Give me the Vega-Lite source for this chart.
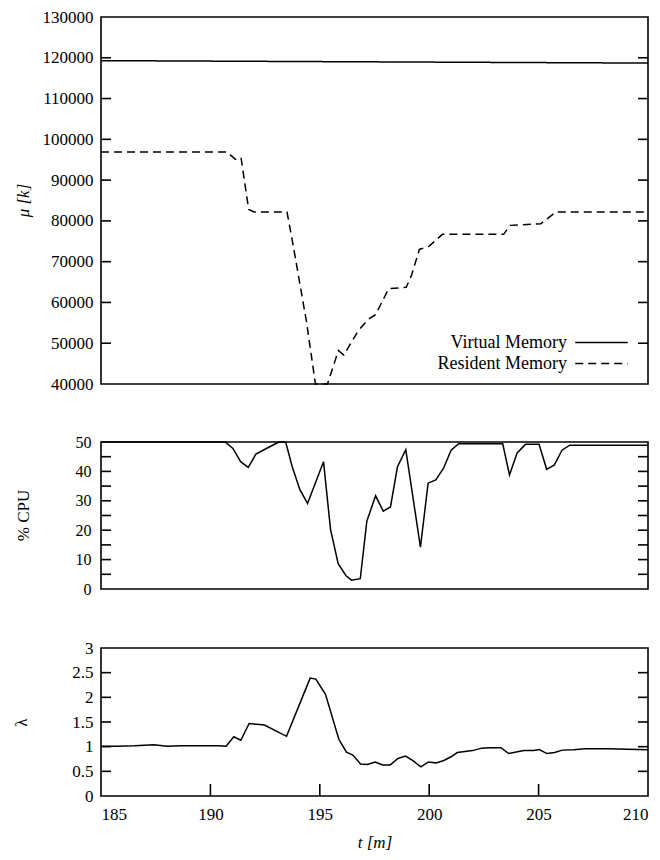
{
  "$schema": "https://vega.github.io/schema/vega-lite/v6.json",
  "autosize": {"type": "pad"},
  "padding": {"left": 11, "top": 7, "right": 5, "bottom": 2},
  "background": "white",
  "config": {
    "font": "Liberation Serif",
    "view": {"stroke": "black", "strokeWidth": 1.6},
    "axis": {"grid": false, "domain": false, "ticks": false, "tickSize": 0, "labelColor": "black", "titleColor": "black", "labelFont": "Liberation Serif", "titleFont": "Liberation Serif", "labelFontSize": 17, "titleFontSize": 17, "titleFontWeight": "normal"},
    "legend": {"labelFont": "Liberation Serif", "labelFontSize": 18, "labelColor": "black"},
    "tick": {"color": "black", "thickness": 1.6, "opacity": 1}
  },
  "datasets": {
    "mem": [
      {"t": 185, "v": 119300, "series": "Virtual Memory"},
      {"t": 197.5, "v": 119000, "series": "Virtual Memory"},
      {"t": 210, "v": 118700, "series": "Virtual Memory"},
      {"t": 185, "v": 96900, "series": "Resident Memory"},
      {"t": 190.75, "v": 96900, "series": "Resident Memory"},
      {"t": 191.15, "v": 95100, "series": "Resident Memory"},
      {"t": 191.4, "v": 95500, "series": "Resident Memory"},
      {"t": 191.75, "v": 82800, "series": "Resident Memory"},
      {"t": 192.0, "v": 82200, "series": "Resident Memory"},
      {"t": 193.5, "v": 82200, "series": "Resident Memory"},
      {"t": 193.75, "v": 75000, "series": "Resident Memory"},
      {"t": 194.4, "v": 55000, "series": "Resident Memory"},
      {"t": 194.8, "v": 40000, "series": "Resident Memory"},
      {"t": 195.35, "v": 40000, "series": "Resident Memory"},
      {"t": 195.85, "v": 48200, "series": "Resident Memory"},
      {"t": 196.1, "v": 47100, "series": "Resident Memory"},
      {"t": 196.75, "v": 53000, "series": "Resident Memory"},
      {"t": 197.2, "v": 55800, "series": "Resident Memory"},
      {"t": 197.55, "v": 57000, "series": "Resident Memory"},
      {"t": 198.15, "v": 63400, "series": "Resident Memory"},
      {"t": 198.95, "v": 63700, "series": "Resident Memory"},
      {"t": 199.2, "v": 66800, "series": "Resident Memory"},
      {"t": 199.55, "v": 73000, "series": "Resident Memory"},
      {"t": 200.0, "v": 73800, "series": "Resident Memory"},
      {"t": 200.6, "v": 76700, "series": "Resident Memory"},
      {"t": 203.4, "v": 76700, "series": "Resident Memory"},
      {"t": 203.7, "v": 78900, "series": "Resident Memory"},
      {"t": 205.1, "v": 79300, "series": "Resident Memory"},
      {"t": 205.8, "v": 82200, "series": "Resident Memory"},
      {"t": 210, "v": 82200, "series": "Resident Memory"}
    ],
    "cpu": [
      {"t": 185, "cpu": 50}, {"t": 190.68, "cpu": 50}, {"t": 191.03, "cpu": 47.8},
      {"t": 191.38, "cpu": 43.3}, {"t": 191.73, "cpu": 41.4}, {"t": 192.08, "cpu": 45.9},
      {"t": 192.69, "cpu": 48.3}, {"t": 193.13, "cpu": 50}, {"t": 193.44, "cpu": 50},
      {"t": 193.74, "cpu": 41.6}, {"t": 194.09, "cpu": 33.8}, {"t": 194.44, "cpu": 29.1},
      {"t": 195.17, "cpu": 43.3}, {"t": 195.49, "cpu": 20.3}, {"t": 195.84, "cpu": 8.6},
      {"t": 196.19, "cpu": 4.6}, {"t": 196.45, "cpu": 3.0}, {"t": 196.85, "cpu": 3.5},
      {"t": 197.15, "cpu": 23.1}, {"t": 197.55, "cpu": 31.7}, {"t": 197.9, "cpu": 26.5},
      {"t": 198.23, "cpu": 27.9}, {"t": 198.55, "cpu": 41.6}, {"t": 198.93, "cpu": 47.4},
      {"t": 199.6, "cpu": 14.2}, {"t": 199.95, "cpu": 36.0}, {"t": 200.3, "cpu": 37.1},
      {"t": 200.65, "cpu": 41.0}, {"t": 201.0, "cpu": 47.2}, {"t": 201.35, "cpu": 49.4},
      {"t": 203.36, "cpu": 49.4}, {"t": 203.67, "cpu": 38.8}, {"t": 204.02, "cpu": 46.3},
      {"t": 204.4, "cpu": 49.2}, {"t": 205.02, "cpu": 49.2}, {"t": 205.37, "cpu": 40.7},
      {"t": 205.72, "cpu": 42.2}, {"t": 206.07, "cpu": 47.2}, {"t": 206.42, "cpu": 48.9},
      {"t": 210, "cpu": 48.9}
    ],
    "lam": [
      {"t": 185, "l": 1.01}, {"t": 185.66, "l": 1.01}, {"t": 186.54, "l": 1.02},
      {"t": 187.41, "l": 1.04}, {"t": 188.02, "l": 1.01}, {"t": 188.63, "l": 1.02},
      {"t": 190.37, "l": 1.02}, {"t": 190.72, "l": 1.01}, {"t": 191.07, "l": 1.2},
      {"t": 191.39, "l": 1.13}, {"t": 191.77, "l": 1.47}, {"t": 192.47, "l": 1.44},
      {"t": 193.48, "l": 1.21}, {"t": 194.22, "l": 2.02}, {"t": 194.56, "l": 2.39},
      {"t": 194.82, "l": 2.37}, {"t": 195.26, "l": 2.06}, {"t": 195.87, "l": 1.15},
      {"t": 196.22, "l": 0.89}, {"t": 196.51, "l": 0.83}, {"t": 196.86, "l": 0.65},
      {"t": 197.18, "l": 0.64}, {"t": 197.53, "l": 0.69}, {"t": 197.87, "l": 0.63},
      {"t": 198.22, "l": 0.63}, {"t": 198.57, "l": 0.76}, {"t": 198.92, "l": 0.81},
      {"t": 199.27, "l": 0.71}, {"t": 199.62, "l": 0.59}, {"t": 199.97, "l": 0.69},
      {"t": 200.32, "l": 0.67}, {"t": 200.67, "l": 0.72}, {"t": 201.02, "l": 0.8},
      {"t": 201.28, "l": 0.88}, {"t": 201.63, "l": 0.9}, {"t": 201.98, "l": 0.92},
      {"t": 202.41, "l": 0.97}, {"t": 202.76, "l": 0.98}, {"t": 203.28, "l": 0.98},
      {"t": 203.63, "l": 0.86}, {"t": 203.98, "l": 0.89}, {"t": 204.33, "l": 0.92},
      {"t": 204.77, "l": 0.92}, {"t": 205.03, "l": 0.94}, {"t": 205.38, "l": 0.86},
      {"t": 205.73, "l": 0.88}, {"t": 206.08, "l": 0.93}, {"t": 206.6, "l": 0.94},
      {"t": 207.12, "l": 0.96}, {"t": 208.17, "l": 0.96}, {"t": 210, "l": 0.94}
    ],
    "memTicks": [
      {"v": 50000}, {"v": 60000}, {"v": 70000}, {"v": 80000}, {"v": 90000},
      {"v": 100000}, {"v": 110000}, {"v": 120000}
    ],
    "cpuTicks": [
      {"cpu": 5}, {"cpu": 10}, {"cpu": 15}, {"cpu": 20}, {"cpu": 25},
      {"cpu": 30}, {"cpu": 35}, {"cpu": 40}, {"cpu": 45}
    ],
    "lamTicks": [
      {"l": 0.5}, {"l": 1}, {"l": 1.5}, {"l": 2}, {"l": 2.5}
    ],
    "tTicks": [
      {"t": 190}, {"t": 195}, {"t": 200}, {"t": 205}
    ]
  },
  "spacing": 40,
  "vconcat": [
    {
      "width": 547,
      "height": 367,
      "resolve": {"axis": {"x": "independent", "y": "independent"}},
      "layer": [
        {
          "data": {"name": "mem"},
          "mark": {"type": "line", "color": "black", "strokeWidth": 1.5},
          "encoding": {
            "x": {"field": "t", "type": "quantitative", "scale": {"domain": [185, 210], "nice": false}, "axis": null},
            "y": {"field": "v", "type": "quantitative", "scale": {"domain": [40000, 130000], "nice": false, "zero": false},
              "axis": {"values": [40000, 50000, 60000, 70000, 80000, 90000, 100000, 110000, 120000, 130000], "format": "d", "labelPadding": 8, "title": "μ [k]", "titleFontStyle": "italic", "titleX": -78, "titleY": 183, "titleAngle": -90, "titleAlign": "center", "titleBaseline": "middle"}},
            "strokeDash": {"field": "series", "type": "nominal",
              "scale": {"domain": ["Virtual Memory", "Resident Memory"], "range": [[1, 0], [8, 5]]},
              "legend": {"orient": "none", "legendX": 489, "legendY": 314, "title": null, "symbolType": "M-2.5,0H2.5", "symbolSize": 441, "symbolStrokeColor": "black", "symbolStrokeWidth": 1.5, "labelAlign": "right", "labelOffset": -46, "rowPadding": 0}}
          }
        },
        {
          "data": {"name": "memTicks"},
          "mark": {"type": "tick", "orient": "horizontal", "size": 10, "xOffset": 5},
          "encoding": {
            "x": {"datum": 185, "type": "quantitative", "axis": null},
            "y": {"field": "v", "type": "quantitative", "axis": null}
          }
        },
        {
          "data": {"name": "memTicks"},
          "mark": {"type": "tick", "orient": "horizontal", "size": 10, "xOffset": -5},
          "encoding": {
            "x": {"datum": 210, "type": "quantitative", "axis": null},
            "y": {"field": "v", "type": "quantitative", "axis": null}
          }
        }
      ]
    },
    {
      "width": 547,
      "height": 147,
      "resolve": {"axis": {"x": "independent", "y": "independent"}},
      "layer": [
        {
          "data": {"name": "cpu"},
          "mark": {"type": "line", "color": "black", "strokeWidth": 1.5},
          "encoding": {
            "x": {"field": "t", "type": "quantitative", "scale": {"domain": [185, 210], "nice": false}, "axis": null},
            "y": {"field": "cpu", "type": "quantitative", "scale": {"domain": [0, 50], "nice": false},
              "axis": {"values": [0, 5, 10, 15, 20, 25, 30, 35, 40, 45, 50], "labelPadding": 10, "labelFontSize": 16, "title": "% CPU", "titleX": -78, "titleY": 73, "titleAngle": -90, "titleAlign": "center", "titleBaseline": "middle"}}
          }
        },
        {
          "data": {"name": "cpuTicks"},
          "mark": {"type": "tick", "orient": "horizontal", "size": 10, "xOffset": 5},
          "encoding": {
            "x": {"datum": 185, "type": "quantitative", "axis": null},
            "y": {"field": "cpu", "type": "quantitative", "axis": null}
          }
        },
        {
          "data": {"name": "cpuTicks"},
          "mark": {"type": "tick", "orient": "horizontal", "size": 10, "xOffset": -5},
          "encoding": {
            "x": {"datum": 210, "type": "quantitative", "axis": null},
            "y": {"field": "cpu", "type": "quantitative", "axis": null}
          }
        }
      ]
    },
    {
      "width": 547,
      "height": 148,
      "resolve": {"axis": {"x": "independent", "y": "independent"}},
      "layer": [
        {
          "data": {"name": "lam"},
          "mark": {"type": "line", "color": "black", "strokeWidth": 1.5},
          "encoding": {
            "x": {"field": "t", "type": "quantitative", "scale": {"domain": [185, 210], "nice": false},
              "axis": {"values": [185, 190, 195, 200, 205, 210], "labelPadding": 10, "title": "t [m]", "titleFontStyle": "italic", "titleFontSize": 17, "titlePadding": 12}},
            "y": {"field": "l", "type": "quantitative", "scale": {"domain": [0, 3], "nice": false},
              "axis": {"values": [0, 0.5, 1, 1.5, 2, 2.5, 3], "format": "~g", "labelPadding": 8, "title": "λ", "titleX": -80, "titleY": 74, "titleAngle": -90, "titleAlign": "center", "titleBaseline": "middle"}}
          }
        },
        {
          "data": {"name": "lamTicks"},
          "mark": {"type": "tick", "orient": "horizontal", "size": 10, "xOffset": 5},
          "encoding": {
            "x": {"datum": 185, "type": "quantitative", "axis": null},
            "y": {"field": "l", "type": "quantitative", "axis": null}
          }
        },
        {
          "data": {"name": "lamTicks"},
          "mark": {"type": "tick", "orient": "horizontal", "size": 10, "xOffset": -5},
          "encoding": {
            "x": {"datum": 210, "type": "quantitative", "axis": null},
            "y": {"field": "l", "type": "quantitative", "axis": null}
          }
        },
        {
          "data": {"name": "tTicks"},
          "mark": {"type": "tick", "orient": "vertical", "size": 12, "yOffset": -6},
          "encoding": {
            "x": {"field": "t", "type": "quantitative", "axis": null},
            "y": {"datum": 0, "type": "quantitative", "axis": null}
          }
        }
      ]
    }
  ]
}
